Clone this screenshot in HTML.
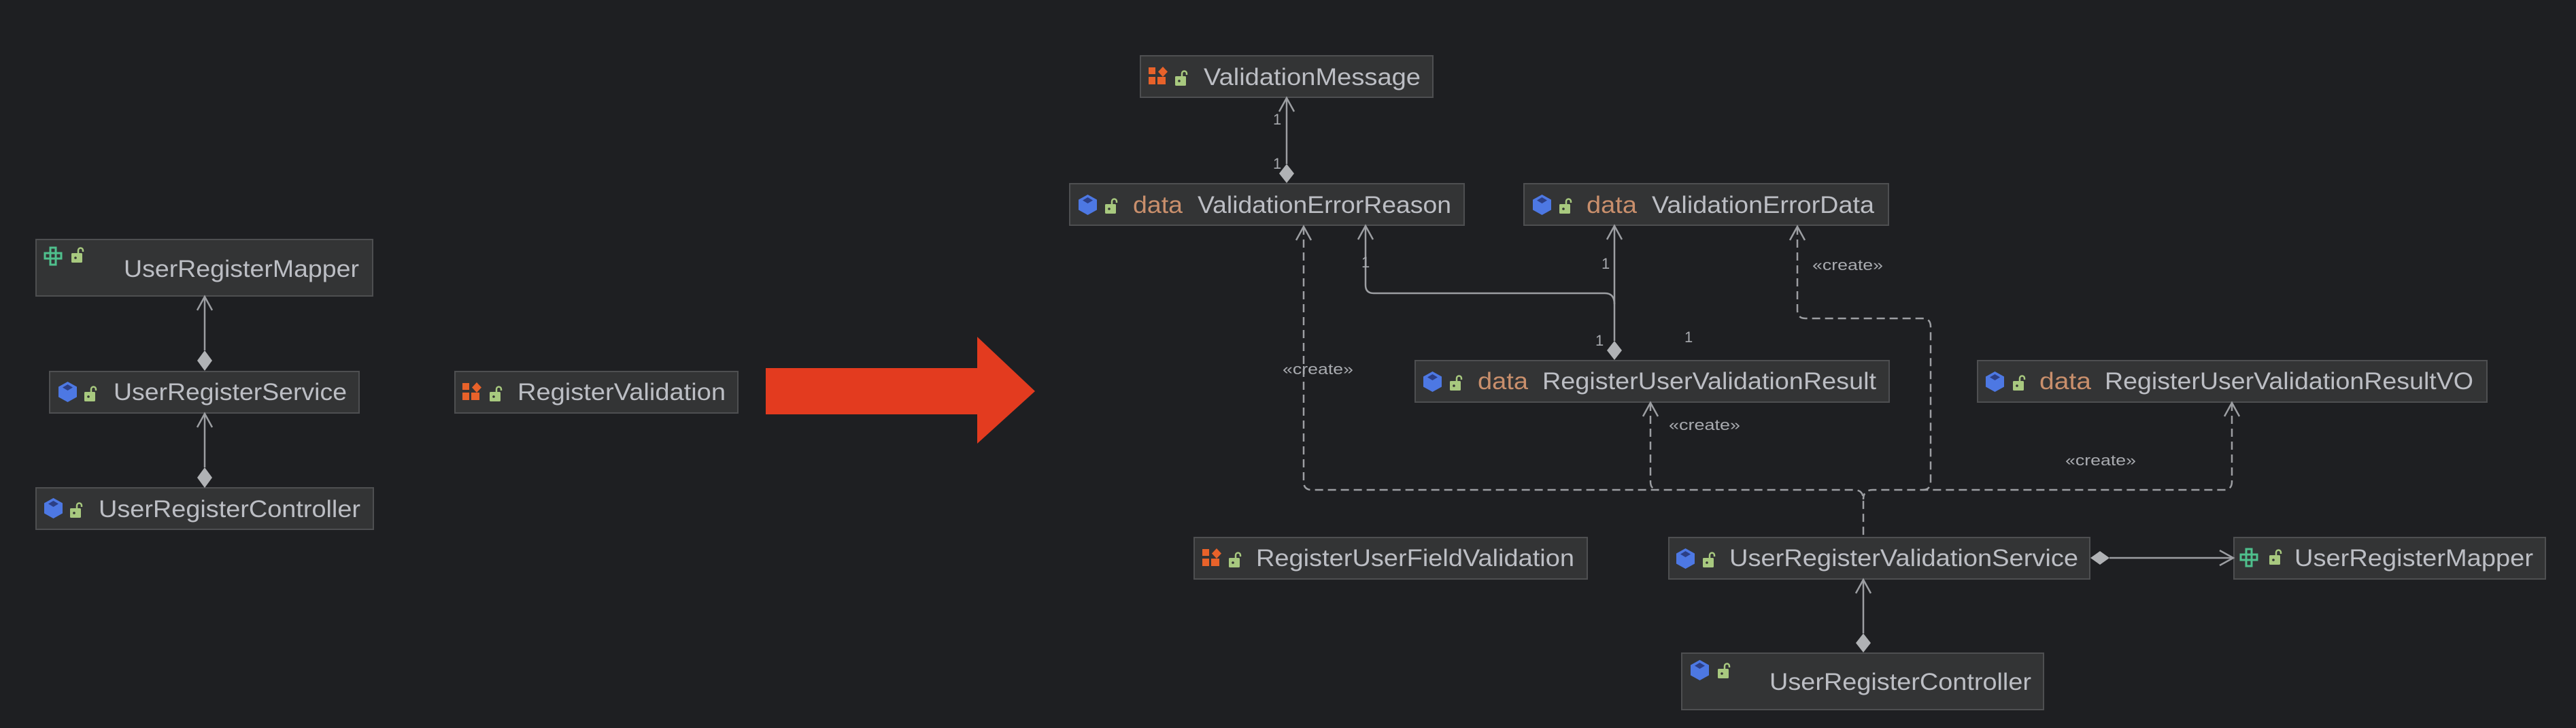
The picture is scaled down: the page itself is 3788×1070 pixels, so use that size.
<!DOCTYPE html>
<html><head><meta charset="utf-8"><style>
html,body{margin:0;padding:0;background:#1e1f22;}
svg{display:block}
text{font-family:"Liberation Sans",sans-serif;}
.n{fill:#bcbec4;font-size:35px}
.d{fill:#c98f6c;font-size:35px}
.l{fill:#a9abb0;font-size:22px}
.s{stroke:#9c9ea2;stroke-width:2.5;fill:none}
.ds{stroke:#9c9ea2;stroke-width:2.5;fill:none;stroke-dasharray:12 7}
.dm{fill:#b0b2b5}
.bx{fill:#333435;stroke:#4e4f51;stroke-width:2}
</style></head><body>
<svg width="3788" height="1070" viewBox="0 0 3788 1070" xmlns="http://www.w3.org/2000/svg">
<defs>
<g id="cls"><polygon points="13.5,0 27,7.5 27,22.5 13.5,30 0,22.5 0,7.5" fill="#4d78e3"/><polygon points="13.5,4 21,8.5 13.5,13 6,8.5" fill="#2c3f85"/></g>
<g id="lock"><rect x="0" y="8" width="16" height="14" rx="1.5" fill="#a8c97f"/><path d="M10,8 V4 a3.5,3.5 0 0 1 7,0 V6" stroke="#a8c97f" stroke-width="2.5" fill="none"/><circle cx="6" cy="15" r="1.8" fill="#333"/></g>
<g id="enm" fill="#e8622a"><rect x="0" y="0" width="10" height="10"/><polygon points="21,-1 28,6.5 21,14 14,6.5"/><rect x="0" y="14" width="10" height="11"/><rect x="13" y="14" width="12" height="11"/></g>
<g id="map" fill="none" stroke="#4fc08d" stroke-width="3"><rect x="10" y="1" width="8" height="8"/><rect x="2" y="9" width="8" height="8"/><rect x="10" y="9" width="8" height="8"/><rect x="18" y="9" width="8" height="8"/><rect x="10" y="17" width="8" height="9"/></g>
</defs>

<!-- left boxes -->
<rect class="bx" x="53" y="352" width="495" height="83"/>
<use href="#map" x="64" y="363"/><use href="#lock" x="105" y="364"/>
<text class="n" x="182" y="407" textLength="346" lengthAdjust="spacingAndGlyphs">UserRegisterMapper</text>

<rect class="bx" x="73" y="546" width="455" height="61"/>
<use href="#cls" x="86" y="561"/><use href="#lock" x="124" y="568"/>
<text class="n" x="167" y="588" textLength="343" lengthAdjust="spacingAndGlyphs">UserRegisterService</text>

<rect class="bx" x="53" y="717" width="496" height="61"/>
<use href="#cls" x="65" y="732"/><use href="#lock" x="103" y="739"/>
<text class="n" x="145" y="760" textLength="385" lengthAdjust="spacingAndGlyphs">UserRegisterController</text>

<rect class="bx" x="669" y="546" width="416" height="61"/>
<use href="#enm" x="680" y="563"/><use href="#lock" x="720" y="568"/>
<text class="n" x="761" y="588" textLength="306" lengthAdjust="spacingAndGlyphs">RegisterValidation</text>

<!-- left connectors -->
<line class="s" x1="301" y1="436" x2="301" y2="515"/>
<polyline class="s" points="290,456 301,436 312,456"/>
<polygon class="dm" points="301,515 312,530 301,545 290,530"/>
<line class="s" x1="301" y1="608" x2="301" y2="687"/>
<polyline class="s" points="290,628 301,608 312,628"/>
<polygon class="dm" points="301,687 312,702 301,717 290,702"/>

<!-- red arrow -->
<polygon fill="#e33b1f" points="1126,541 1437,541 1437,495 1522,575 1437,652 1437,609 1126,609"/>

<!-- right boxes -->
<rect class="bx" x="1677" y="82" width="430" height="61"/>
<use href="#enm" x="1689" y="99"/><use href="#lock" x="1728" y="104"/>
<text class="n" x="1770" y="125" textLength="319" lengthAdjust="spacingAndGlyphs">ValidationMessage</text>

<rect class="bx" x="1573" y="270" width="580" height="61"/>
<use href="#cls" x="1586" y="286"/><use href="#lock" x="1625" y="292"/>
<text class="d" x="1666" y="313" textLength="73" lengthAdjust="spacingAndGlyphs">data</text>
<text class="n" x="1761" y="313" textLength="373" lengthAdjust="spacingAndGlyphs">ValidationErrorReason</text>

<rect class="bx" x="2241" y="270" width="536" height="61"/>
<use href="#cls" x="2254" y="286"/><use href="#lock" x="2293" y="292"/>
<text class="d" x="2333" y="313" textLength="74" lengthAdjust="spacingAndGlyphs">data</text>
<text class="n" x="2429" y="313" textLength="327" lengthAdjust="spacingAndGlyphs">ValidationErrorData</text>

<rect class="bx" x="2081" y="530" width="697" height="61"/>
<use href="#cls" x="2093" y="546"/><use href="#lock" x="2132" y="552"/>
<text class="d" x="2173" y="572" textLength="74" lengthAdjust="spacingAndGlyphs">data</text>
<text class="n" x="2268" y="572" textLength="491" lengthAdjust="spacingAndGlyphs">RegisterUserValidationResult</text>

<rect class="bx" x="2908" y="530" width="749" height="61"/>
<use href="#cls" x="2920" y="546"/><use href="#lock" x="2960" y="552"/>
<text class="d" x="2999" y="572" textLength="76" lengthAdjust="spacingAndGlyphs">data</text>
<text class="n" x="3095" y="572" textLength="542" lengthAdjust="spacingAndGlyphs">RegisterUserValidationResultVO</text>

<rect class="bx" x="1756" y="790" width="578" height="61"/>
<use href="#enm" x="1768" y="807"/><use href="#lock" x="1807" y="812"/>
<text class="n" x="1847" y="832" textLength="468" lengthAdjust="spacingAndGlyphs">RegisterUserFieldValidation</text>

<rect class="bx" x="2454" y="790" width="619" height="61"/>
<use href="#cls" x="2465" y="806"/><use href="#lock" x="2504" y="812"/>
<text class="n" x="2543" y="832" textLength="513" lengthAdjust="spacingAndGlyphs">UserRegisterValidationService</text>

<rect class="bx" x="3285" y="790" width="458" height="61"/>
<use href="#map" x="3293" y="806"/><use href="#lock" x="3337" y="808"/>
<text class="n" x="3374" y="832" textLength="351" lengthAdjust="spacingAndGlyphs">UserRegisterMapper</text>

<rect class="bx" x="2473" y="960" width="532" height="83"/>
<use href="#cls" x="2486" y="970"/><use href="#lock" x="2526" y="975"/>
<text class="n" x="2602" y="1014" textLength="385" lengthAdjust="spacingAndGlyphs">UserRegisterController</text>

<!-- right connectors -->
<line class="s" x1="1892" y1="144" x2="1892" y2="241"/>
<polyline class="s" points="1881,164 1892,144 1903,164"/>
<polygon class="dm" points="1892,241 1903,255 1892,269 1881,255"/>
<text class="l" x="1872" y="183">1</text>
<text class="l" x="1872" y="248">1</text>

<path class="s" d="M2008,332 V419 Q2008,431 2020,431 H2360 Q2374,431 2374,447"/>
<polyline class="s" points="1997,352 2008,332 2019,352"/>
<line class="s" x1="2374" y1="332" x2="2374" y2="501"/>
<polyline class="s" points="2363,352 2374,332 2385,352"/>
<polygon class="dm" points="2374,501 2385,515 2374,529 2363,515"/>
<text class="l" x="2002" y="393">1</text>
<text class="l" x="2355" y="395">1</text>
<text class="l" x="2346" y="508">1</text>
<text class="l" x="2477" y="503">1</text>

<path class="ds" d="M1917,333 V708 Q1917,720 1929,720 H2726 Q2740,720 2740,734 V790"/>
<polyline class="s" points="1906,353 1917,333 1928,353"/>
<path class="ds" d="M3282,592 V708 Q3282,720 3270,720 H2754 Q2740,720 2740,734"/>
<polyline class="s" points="3271,612 3282,592 3293,612"/>
<path class="ds" d="M2427,592 V708 Q2427,720 2439,720"/>
<polyline class="s" points="2416,612 2427,592 2438,612"/>
<path class="ds" d="M2643,333 V456 Q2643,468 2655,468 H2827 Q2839,468 2839,480 V708 Q2839,720 2827,720"/>
<polyline class="s" points="2632,353 2643,333 2654,353"/>

<text class="l" x="1886" y="550" textLength="104" lengthAdjust="spacingAndGlyphs">«create»</text>
<text class="l" x="2665" y="397" textLength="104" lengthAdjust="spacingAndGlyphs">«create»</text>
<text class="l" x="2454" y="632" textLength="105" lengthAdjust="spacingAndGlyphs">«create»</text>
<text class="l" x="3037" y="684" textLength="104" lengthAdjust="spacingAndGlyphs">«create»</text>

<polygon class="dm" points="3074,820 3088,810 3102,820 3088,830"/>
<line class="s" x1="3102" y1="820" x2="3284" y2="820"/>
<polyline class="s" points="3264,809 3284,820 3264,831"/>

<line class="s" x1="2740" y1="852" x2="2740" y2="931"/>
<polyline class="s" points="2729,872 2740,852 2751,872"/>
<polygon class="dm" points="2740,931 2751,945 2740,959 2729,945"/>
</svg>
</body></html>
